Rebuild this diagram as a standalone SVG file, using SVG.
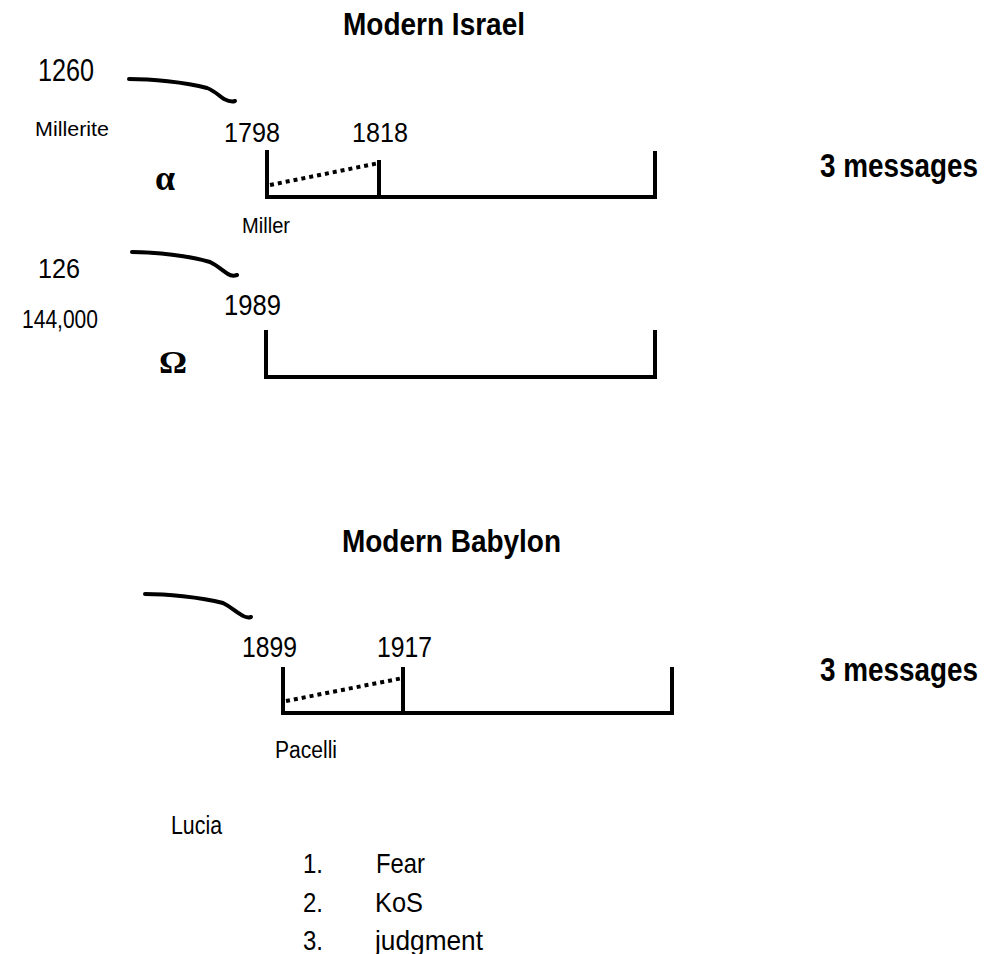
<svg xmlns="http://www.w3.org/2000/svg" width="1005" height="954" viewBox="0 0 1005 954">
<style>
  .t { font-family: "Liberation Sans", Arial, sans-serif; fill: #000; }
  .b { font-weight: bold; }
  .g { font-family: "Liberation Serif", "Times New Roman", serif; font-weight: bold; fill: #000; }
  .ln { stroke: #000; stroke-width: 4; fill: none; stroke-linecap: butt; }
  .dot { stroke: #000; stroke-width: 4; fill: none; stroke-dasharray: 4 4; }
  .cv { stroke: #000; stroke-width: 4; fill: none; stroke-linecap: round; stroke-linejoin: round; }
</style>
<rect width="1005" height="954" fill="#fff"/>

<g id="title-israel"><text class="t b" x="343" y="35" font-size="32" textLength="182" lengthAdjust="spacingAndGlyphs">Modern Israel</text></g>
<g id="title-babylon"><text class="t b" x="342" y="552" font-size="32" textLength="219" lengthAdjust="spacingAndGlyphs">Modern Babylon</text></g>

<g id="label-1260"><text class="t" x="38" y="81" font-size="32" textLength="56" lengthAdjust="spacingAndGlyphs">1260</text></g>
<g id="label-millerite"><text class="t" x="35" y="136" font-size="21" textLength="74" lengthAdjust="spacingAndGlyphs">Millerite</text></g>
<g id="label-alpha"><text class="g" x="155" y="190" font-size="36">α</text></g>
<g id="label-miller"><text class="t" x="242" y="233" font-size="22" textLength="48" lengthAdjust="spacingAndGlyphs">Miller</text></g>
<g id="msg-1"><text class="t b" transform="translate(820,177) scale(0.845,1)" x="0" y="0" font-size="33">3 messages</text></g>

<g id="timeline-1">
  <text class="t" x="224" y="142" font-size="28" textLength="56" lengthAdjust="spacingAndGlyphs">1798</text>
  <text class="t" x="352" y="142" font-size="28" textLength="56" lengthAdjust="spacingAndGlyphs">1818</text>
  <line class="ln" x1="267" y1="150" x2="267" y2="199"/>
  <line class="ln" x1="379" y1="160" x2="379" y2="199"/>
  <line class="ln" x1="655" y1="151" x2="655" y2="199"/>
  <line class="ln" x1="265" y1="197" x2="657" y2="197"/>
  <line class="dot" x1="270" y1="185" x2="379" y2="163"/>
</g>

<g id="label-126"><text class="t" x="38" y="278" font-size="28" textLength="42" lengthAdjust="spacingAndGlyphs">126</text></g>
<g id="label-144000"><text class="t" x="22" y="328" font-size="25" textLength="76" lengthAdjust="spacingAndGlyphs">144,000</text></g>
<g id="label-omega"><text class="g" x="159" y="373" font-size="32" textLength="28" lengthAdjust="spacingAndGlyphs">Ω</text></g>

<g id="timeline-2">
  <text class="t" x="224" y="315" font-size="30" textLength="57" lengthAdjust="spacingAndGlyphs">1989</text>
  <line class="ln" x1="266" y1="330" x2="266" y2="379"/>
  <line class="ln" x1="655" y1="330" x2="655" y2="379"/>
  <line class="ln" x1="264" y1="377" x2="657" y2="377"/>
</g>

<g id="msg-2"><text class="t b" transform="translate(820,681) scale(0.845,1)" x="0" y="0" font-size="33">3 messages</text></g>

<g id="timeline-3">
  <text class="t" x="242" y="657" font-size="30" textLength="55" lengthAdjust="spacingAndGlyphs">1899</text>
  <text class="t" x="377" y="657" font-size="30" textLength="55" lengthAdjust="spacingAndGlyphs">1917</text>
  <line class="ln" x1="283" y1="667" x2="283" y2="715"/>
  <line class="ln" x1="403" y1="667" x2="403" y2="715"/>
  <line class="ln" x1="672" y1="667" x2="672" y2="715"/>
  <line class="ln" x1="281" y1="713" x2="674" y2="713"/>
  <line class="dot" x1="286" y1="701" x2="403" y2="678"/>
</g>

<g id="label-pacelli"><text class="t" x="275" y="758" font-size="23" textLength="62" lengthAdjust="spacingAndGlyphs">Pacelli</text></g>
<g id="label-lucia"><text class="t" x="171" y="834" font-size="25" textLength="51" lengthAdjust="spacingAndGlyphs">Lucia</text></g>

<g id="list">
  <text class="t" x="303" y="873" font-size="28" textLength="20" lengthAdjust="spacingAndGlyphs">1.</text>
  <text class="t" x="376" y="873" font-size="28" textLength="49" lengthAdjust="spacingAndGlyphs">Fear</text>
  <text class="t" x="303" y="912" font-size="28" textLength="20" lengthAdjust="spacingAndGlyphs">2.</text>
  <text class="t" x="375" y="912" font-size="28" textLength="48" lengthAdjust="spacingAndGlyphs">KoS</text>
  <text class="t" x="303" y="950" font-size="28" textLength="20" lengthAdjust="spacingAndGlyphs">3.</text>
  <text class="t" x="375" y="950" font-size="28" textLength="108" lengthAdjust="spacingAndGlyphs">judgment</text>
</g>

<g id="connectors">
  <path class="cv" d="M129,79 C150,79 185,82 207,88 C215,91 219,96 224,99 C228,101 232,102 235,101"/>
  <path class="cv" d="M132,252 C155,252 190,256 210,262 C218,266 223,271 228,274 C231,276 234,276 237,275"/>
  <path class="cv" d="M145,594 C165,594 200,597 223,603 C231,607 235,611 240,614 C244,617 248,618 251,617"/>
</g>
</svg>
